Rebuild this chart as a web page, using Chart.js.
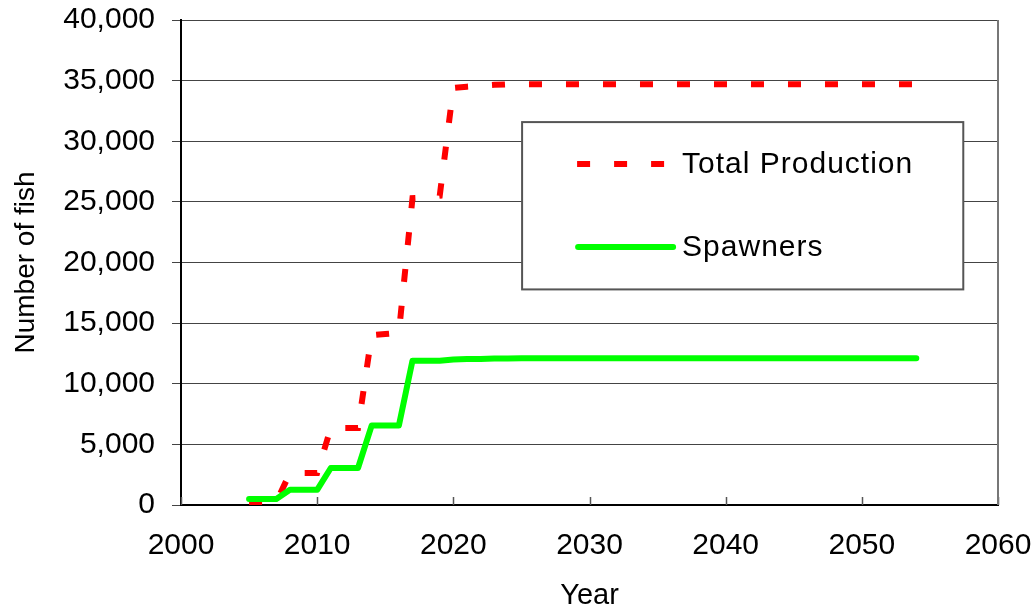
<!DOCTYPE html>
<html>
<head>
<meta charset="utf-8">
<script src="https://cdn.jsdelivr.net/npm/chart.js@4"></script>
<style>
html,body{margin:0;padding:0;background:#fff;}
#wrap{position:relative;width:1035px;height:609px;}
</style>
</head>
<body>
<div id="wrap"><canvas id="c"></canvas></div>
<script>
// ---- Data ----
const years = [2005,2006,2007,2008,2009,2010,2011,2012,2013,2014,2015,2016,2017,2018,2019,2020,2021,2022,2023,2024,2025,2026,2027,2028,2029,2030,2031,2032,2033,2034,2035,2036,2037,2038,2039,2040,2041,2042,2043,2044,2045,2046,2047,2048,2049,2050,2051,2052,2053,2054];
const totalProduction = [250,250,250,2640,2640,2640,6350,6350,6350,14000,14100,14200,25300,25350,25500,34400,34500,34580,34650,34700,34700,34700,34700,34700,34700,34700,34700,34700,34700,34700,34700,34700,34700,34700,34700,34700,34700,34700,34700,34700,34700,34700,34700,34700,34700,34700,34700,34700,34700,34700];
const spawners = [500,500,500,1250,1250,1250,3050,3050,3050,6550,6550,6550,11900,11900,11900,12000,12050,12050,12080,12080,12100,12100,12100,12100,12100,12100,12100,12100,12100,12100,12100,12100,12100,12100,12100,12100,12100,12100,12100,12100,12100,12100,12100,12100,12100,12100,12100,12100,12100,12100];
const seriesLabels = ["Total Production", "Spawners"];
const xTicks = [2000,2010,2020,2030,2040,2050,2060];
const yTicks = [0,5000,10000,15000,20000,25000,30000,35000,40000];

const FONT = "'Liberation Sans', Arial, sans-serif";
const toXY = (vals) => years.map((y,i) => ({x:y, y:vals[i]}));

const dsProd = {
  label: seriesLabels[0], data: toXY(totalProduction),
  borderColor: '#ff0000', borderWidth: 6, borderDash: [13,24], borderCapStyle: 'butt',
  pointRadius: 0, tension: 0, fill: false, order: 1
};
const dsSpawn = {
  label: seriesLabels[1], data: toXY(spawners),
  borderColor: '#00ff00', borderWidth: 6, borderCapStyle: 'round', borderJoinStyle: 'round',
  pointRadius: 0, tension: 0, fill: false, order: 0
};

const framePlugin = {
  id: 'frame',
  beforeDatasetsDraw(chart) {
    const {ctx, chartArea: a, scales: {x}} = chart;
    ctx.save();
    ctx.strokeStyle = '#555'; ctx.lineWidth = 1.5;
    xTicks.forEach(v => {
      const px = Math.round(x.getPixelForValue(v)) + 0.5;
      ctx.beginPath(); ctx.moveTo(px, a.bottom); ctx.lineTo(px, a.bottom - 8); ctx.stroke();
    });
    ctx.strokeStyle = '#777'; ctx.lineWidth = 2;
    ctx.beginPath(); ctx.moveTo(a.right, a.top); ctx.lineTo(a.right, a.bottom); ctx.stroke();
    ctx.restore();
  },
  afterDatasetsDraw(chart) {
    const {ctx, chartArea: a} = chart;
    const w = a.right - a.left, h = a.bottom - a.top;
    const bx = a.left + w * 0.4175, bxr = a.left + w * 0.9575;
    const by = a.top + h * 0.2105, byb = a.top + h * 0.5555;
    ctx.save();
    ctx.fillStyle = '#fff';
    ctx.fillRect(bx, by, bxr - bx, byb - by);
    ctx.strokeStyle = '#555'; ctx.lineWidth = 2;
    ctx.strokeRect(bx, by, bxr - bx, byb - by);
    const items = [dsProd, dsSpawn];
    const rowsY = [by + 42, by + 125];
    items.forEach((ds, i) => {
      const yy = rowsY[i];
      ctx.strokeStyle = ds.borderColor; ctx.lineWidth = ds.borderWidth;
      ctx.setLineDash(ds.borderDash || []);
      ctx.lineCap = ds.borderCapStyle;
      const x0 = bx + 55, x1 = ds.borderDash ? bx + 155 : bx + 151;
      ctx.beginPath(); ctx.moveTo(ds.borderDash ? x0 : x0 + 1, yy); ctx.lineTo(x1, yy); ctx.stroke();
      ctx.setLineDash([]);
      ctx.fillStyle = '#000';
      ctx.font = "30px " + FONT;
      ctx.letterSpacing = '1px';
      ctx.textBaseline = 'middle'; ctx.textAlign = 'left';
      ctx.fillText(ds.label, bx + 160, yy + 1);
    });
    ctx.restore();
  }
};

new Chart(document.getElementById('c'), {
  type: 'line',
  data: { datasets: [dsProd, dsSpawn] },
  options: {
    responsive: true, maintainAspectRatio: false, animation: false,
    layout: { padding: { top: 20, right: 37, left: 0, bottom: 0 } },
    plugins: { legend: { display: false }, tooltip: { enabled: false } },
    scales: {
      x: {
        type: 'linear', min: 2000, max: 2060,
        afterBuildTicks: (s) => { s.ticks = xTicks.map(v => ({value: v})); },
        afterFit: (s) => { s.height = 104; s.paddingLeft = 0; s.paddingRight = 0; },
        grid: { display: false, drawTicks: false },
        border: { display: true, color: '#000', width: 2 },
        ticks: { color: '#000', font: { family: FONT, size: 30 }, padding: 23, maxRotation: 0, autoSkip: false,
                 callback: (v) => String(v) },
        title: { display: true, text: 'Year', color: '#000', font: { family: FONT, size: 29, lineHeight: 0.9 }, padding: 0 }
      },
      y: {
        min: 0, max: 40000,
        afterBuildTicks: (s) => { s.ticks = yTicks.map(v => ({value: v})); },
        afterFit: (s) => { s.width = 181; s.paddingTop = 0; s.paddingBottom = 0; },
        grid: { color: '#444', lineWidth: 1, tickLength: 9, tickColor: '#444' },
        border: { display: true, color: '#000', width: 2 },
        ticks: { color: '#000', font: { family: FONT, size: 30 }, padding: 17,
                 callback: (v) => Number(v).toLocaleString('en-US') },
        title: { display: true, text: 'Number of fish', color: '#000', font: { family: FONT, size: 28 }, padding: { top: 9, bottom: 0 } }
      }
    }
  },
  plugins: [framePlugin]
});
</script>
</body>
</html>
